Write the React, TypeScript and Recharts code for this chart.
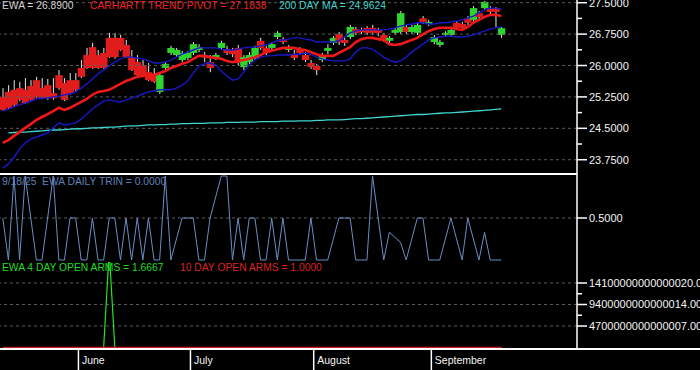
import React from 'react';
import { ComposedChart, Bar, Line, XAxis, YAxis, ReferenceLine } from 'recharts';

const FONT = '"Liberation Sans", Arial, sans-serif';

// trading days (categories)
const dates = [
  '5/12','5/13','5/14','5/15','5/16','5/19','5/20','5/21','5/22','5/23','5/27','5/28','5/29','5/30',
  '6/2','6/3','6/4','6/5','6/6','6/9','6/10','6/11','6/12','6/13','6/16','6/17','6/18','6/20','6/23','6/24','6/25','6/26','6/27','6/30',
  '7/1','7/2','7/3','7/7','7/8','7/9','7/10','7/11','7/14','7/15','7/16','7/17','7/18','7/21','7/22','7/23','7/24','7/25','7/28','7/29','7/30','7/31',
  '8/1','8/4','8/5','8/6','8/7','8/8','8/11','8/12','8/13','8/14','8/15','8/18','8/19','8/20','8/21','8/22','8/25','8/26','8/27','8/28','8/29',
  '9/2','9/3','9/4','9/5','9/8','9/9','9/10','9/11','9/12','9/15','9/16','9/17','9/18',
];
const PAD_SLOTS = 13;

const open = [
  25.25, 25.37, 25.42, 25.46, 25.42, 25.51, 25.65, 25.46, 25.53, 25.34,
  25.77, 25.58, 25.65, 25.65, 25.94, 26.25, 26.44, 26.25, 26.30, 26.66,
  26.66, 26.66, 26.49, 26.20, 26.08, 26.01, 25.84, 25.80, 25.37, 25.94,
  26.30, 26.25, 26.13, 26.18, 26.30, 26.37, 26.23, 26.08, 26.18, 26.42,
  26.39, 26.37, 26.42, 25.96, 26.08, 26.18, 26.59, 26.42, 26.42, 26.68,
  26.63, 26.37, 26.27, 26.37, 26.25, 26.06, 25.99, 26.13, 26.35, 26.54,
  26.75, 26.61, 26.68, 26.87, 26.85, 26.90, 26.90, 26.85, 26.73, 26.59,
  26.78, 26.80, 26.92, 26.80, 26.78, 27.13, 26.99, 26.56, 26.49, 26.73,
  26.73, 27.02, 26.99, 27.13, 27.09, 27.25, 27.37, 27.37, 27.37, 26.73,
];
const high = [
  25.46, 25.53, 25.65, 25.61, 25.70, 25.65, 25.73, 25.70, 25.68, 25.70,
  25.89, 25.70, 25.82, 25.82, 26.13, 26.42, 26.54, 26.37, 26.42, 26.78,
  26.78, 26.73, 26.61, 26.37, 26.25, 26.13, 26.06, 25.94, 25.82, 26.08,
  26.47, 26.42, 26.35, 26.35, 26.56, 26.51, 26.32, 26.25, 26.30, 26.59,
  26.47, 26.42, 26.49, 26.25, 26.32, 26.47, 26.66, 26.47, 26.56, 26.82,
  26.68, 26.49, 26.37, 26.44, 26.32, 26.13, 26.04, 26.30, 26.51, 26.70,
  26.80, 26.68, 26.97, 26.92, 26.90, 26.94, 26.97, 26.90, 26.78, 26.70,
  26.90, 27.30, 26.97, 26.97, 27.02, 27.18, 27.09, 26.73, 26.61, 26.82,
  26.90, 27.06, 27.04, 27.18, 27.42, 27.30, 27.54, 27.42, 27.40, 26.92,
];
const low = [
  24.92, 24.96, 25.03, 25.15, 25.08, 25.15, 25.22, 25.20, 25.18, 25.18,
  25.42, 25.15, 25.30, 25.39, 25.70, 25.92, 25.92, 25.92, 25.92, 26.18,
  26.16, 26.35, 26.18, 25.87, 25.75, 25.73, 25.63, 25.58, 25.32, 25.89,
  26.25, 26.20, 26.08, 26.13, 26.25, 26.32, 26.08, 25.84, 26.13, 26.37,
  26.25, 26.20, 25.99, 25.89, 26.01, 26.13, 26.37, 26.25, 26.37, 26.63,
  26.51, 26.32, 26.13, 26.25, 26.08, 25.92, 25.77, 26.08, 26.27, 26.49,
  26.49, 26.47, 26.63, 26.73, 26.75, 26.73, 26.73, 26.70, 26.56, 26.54,
  26.73, 26.75, 26.75, 26.75, 26.73, 26.99, 26.94, 26.51, 26.44, 26.68,
  26.68, 26.85, 26.85, 26.97, 27.04, 27.11, 27.33, 27.23, 26.92, 26.66,
];
const close = [
  24.94, 24.99, 25.06, 25.18, 25.10, 25.18, 25.25, 25.22, 25.22, 25.22,
  25.46, 25.18, 25.34, 25.42, 25.73, 25.94, 25.94, 25.94, 25.94, 26.20,
  26.20, 26.37, 26.20, 25.89, 25.77, 25.77, 25.65, 25.61, 25.77, 26.04,
  26.42, 26.37, 26.30, 26.30, 26.51, 26.44, 26.20, 25.94, 26.25, 26.54,
  26.30, 26.27, 26.06, 26.20, 26.25, 26.42, 26.42, 26.30, 26.51, 26.78,
  26.56, 26.44, 26.18, 26.30, 26.13, 25.96, 25.89, 26.25, 26.42, 26.66,
  26.56, 26.54, 26.92, 26.78, 26.80, 26.78, 26.78, 26.78, 26.61, 26.66,
  26.85, 27.25, 26.80, 26.92, 26.97, 27.04, 27.04, 26.68, 26.56, 26.78,
  26.85, 26.90, 26.90, 27.02, 27.37, 27.16, 27.52, 27.28, 27.28, 26.89,
];

const trendPivot = [
  24.15, 24.22, 24.32, 24.41, 24.51, 24.60, 24.70, 24.77, 24.84, 24.91,
  24.99, 24.94, 24.99, 25.06, 25.13, 25.20, 25.30, 25.37, 25.39, 25.42,
  25.49, 25.56, 25.63, 25.68, 25.73, 25.75, 25.77, 25.77, 25.82, 25.87,
  25.94, 25.99, 26.04, 26.08, 26.16, 26.23, 26.23, 26.20, 26.18, 26.16,
  26.11, 26.08, 26.11, 26.13, 26.16, 26.20, 26.25, 26.32, 26.35, 26.39,
  26.42, 26.42, 26.42, 26.39, 26.37, 26.32, 26.27, 26.23, 26.23, 26.23,
  26.30, 26.37, 26.44, 26.56, 26.63, 26.66, 26.66, 26.63, 26.61, 26.51,
  26.49, 26.51, 26.56, 26.61, 26.66, 26.75, 26.82, 26.87, 26.90, 26.90,
  26.90, 26.87, 26.85, 26.92, 27.02, 27.09, 27.16, 27.21, 27.21, 27.1838,
];
const upperBand = [
  24.91, 24.96, 25.01, 25.06, 25.10, 25.15, 25.20, 25.22, 25.22, 25.25,
  25.27, 25.30, 25.32, 25.37, 25.46, 25.56, 25.68, 25.80, 25.89, 25.99,
  26.08, 26.16, 26.20, 26.20, 26.18, 26.16, 26.11, 26.06, 26.06, 26.08,
  26.13, 26.20, 26.27, 26.32, 26.37, 26.42, 26.42, 26.42, 26.42, 26.39,
  26.37, 26.37, 26.39, 26.42, 26.44, 26.44, 26.47, 26.49, 26.54, 26.59,
  26.61, 26.63, 26.66, 26.66, 26.63, 26.61, 26.56, 26.56, 26.56, 26.56,
  26.59, 26.68, 26.78, 26.82, 26.85, 26.85, 26.85, 26.85, 26.85, 26.87,
  26.90, 26.94, 26.97, 26.99, 27.02, 27.02, 26.99, 26.99, 27.02, 27.02,
  27.04, 27.06, 27.09, 27.13, 27.18, 27.25, 27.33, 27.37, 27.37, 27.35,
];
const lowerBand = [
  23.55, 23.65, 23.81, 24.01, 24.15, 24.24, 24.29, 24.34, 24.39, 24.51,
  24.63, 24.58, 24.60, 24.63, 24.72, 24.84, 24.96, 25.06, 25.15, 25.18,
  25.15, 25.13, 25.18, 25.22, 25.27, 25.32, 25.37, 25.39, 25.42, 25.42,
  25.42, 25.46, 25.53, 25.63, 25.82, 25.99, 26.04, 26.06, 26.01, 25.87,
  25.75, 25.65, 25.68, 25.84, 26.01, 26.13, 26.20, 26.23, 26.23, 26.25,
  26.25, 26.25, 26.27, 26.27, 26.30, 26.27, 26.20, 26.16, 26.13, 26.11,
  26.11, 26.11, 26.16, 26.32, 26.42, 26.42, 26.39, 26.30, 26.20, 26.13,
  26.08, 26.11, 26.20, 26.32, 26.42, 26.51, 26.61, 26.66, 26.68, 26.70,
  26.70, 26.68, 26.68, 26.70, 26.73, 26.78, 26.82, 26.87, 26.90, 26.92,
];
const ma200 = [
  null, 24.39, 24.40, 24.41, 24.41, 24.42, 24.43, 24.44, 24.45, 24.46,
  24.46, 24.47, 24.48, 24.49, 24.49, 24.50, 24.51, 24.51, 24.52, 24.53,
  24.53, 24.54, 24.55, 24.56, 24.56, 24.57, 24.58, 24.58, 24.59, 24.59,
  24.60, 24.60, 24.61, 24.61, 24.62, 24.62, 24.62, 24.63, 24.63, 24.63,
  24.64, 24.64, 24.64, 24.65, 24.65, 24.65, 24.66, 24.66, 24.66, 24.66,
  24.67, 24.67, 24.67, 24.68, 24.68, 24.68, 24.69, 24.69, 24.70, 24.70,
  24.70, 24.71, 24.72, 24.73, 24.73, 24.74, 24.75, 24.76, 24.77, 24.78,
  24.79, 24.80, 24.81, 24.82, 24.83, 24.83, 24.84, 24.85, 24.86, 24.87,
  24.87, 24.88, 24.89, 24.90, 24.91, 24.92, 24.93, 24.94, 24.95, 24.9624,
];

const trin = [
  0.5, 0, 1, 0, 1, 0.5, 0, 0, 0.5, 1,
  0, 0, 0.5, 0.5, 0, 0, 0.5, 0, 0, 0.5,
  0.5, 0, 0.5, 0, 0.5, 0, 0.5, 0, 0, 1,
  0, 0.25, 0.5, 0.5, 0.5, 0, 0, 0.5, 0.75, 1,
  1, 0, 0.5, 0, 0.5, 0.5, 0, 0, 0.5, 0,
  0.5, 0, 0, 0, 0, 0.5, 0, 0, 0, 0.25,
  0.5, 0.5, 0.5, 0, 0, 0, 1, 0.5, 0, 0.33,
  0.27, 0.21, 0, 0.25, 0.5, 0.5, 0, 0, 0, 0.25,
  0.5, 0.25, 0, 0.5, 0.25, 0, 0.33, 0, 0, 0,
];

const openArms4 = [
  1.25, 1.5, 1.0, 0.75, 1.25, 1.5, 1.0, 1.25, 1.0, 0.75,
  1.0, 1.5, 1.25, 1.0, 1.25, 1.5, 1.0, 0.75, 1.0, 2.1e16,
  1.25, 1.0, 1.25, 1.5, 1.0, 0.75, 1.25, 1.5, 1.0, 1.25,
  1.0, 0.75, 1.25, 1.5, 1.25, 1.0, 0.75, 1.0, 1.25, 1.5,
  1.25, 1.0, 1.0, 1.25, 1.5, 1.25, 1.0, 0.75, 1.0, 1.25,
  1.5, 1.25, 1.0, 0.75, 1.0, 1.25, 1.5, 1.25, 1.0, 1.0,
  1.25, 1.5, 1.25, 1.0, 0.75, 1.0, 1.25, 1.0, 1.25, 1.5,
  1.25, 1.0, 0.75, 1.0, 1.25, 1.5, 1.25, 1.0, 1.0, 1.25,
  1.5, 1.25, 1.0, 1.25, 1.5, 1.25, 1.0, 1.25, 1.5, 1.6667,
];
const openArms10 = [
  1.1, 1.1, 1.05, 1.0, 1.05, 1.1, 1.1, 1.05, 1.0, 1.0,
  1.05, 1.1, 1.1, 1.05, 1.05, 1.1, 1.05, 1.0, 1.0, 1.05,
  1.1, 1.1, 1.05, 1.05, 1.1, 1.05, 1.0, 1.05, 1.1, 1.1,
  1.05, 1.0, 1.0, 1.05, 1.1, 1.1, 1.05, 1.0, 1.05, 1.1,
  1.1, 1.05, 1.0, 1.05, 1.1, 1.1, 1.05, 1.0, 1.0, 1.05,
  1.1, 1.1, 1.05, 1.0, 1.05, 1.1, 1.1, 1.05, 1.0, 1.0,
  1.05, 1.1, 1.1, 1.05, 1.0, 1.05, 1.1, 1.05, 1.0, 1.05,
  1.1, 1.1, 1.05, 1.0, 1.05, 1.1, 1.1, 1.05, 1.0, 1.05,
  1.1, 1.05, 1.0, 1.05, 1.1, 1.05, 1.0, 1.05, 1.05, 1.0,
];

// axes
const priceTicks = [23.75, 24.125, 24.5, 24.875, 25.25, 25.625, 26, 26.375, 26.75, 27.125, 27.5];
const priceMajor = [23.75, 24.5, 25.25, 26, 26.75, 27.5];
const priceLabels = ['23.7500', '24.5000', '25.2500', '26.0000', '26.7500', '27.5000'];
const trinTicks = [0.5];
const trinLabels = ['0.5000'];
const armsTicks = [4.7e15, 7.05e15, 9.4e15, 1.175e16, 1.41e16];
const armsMajor = [4.7e15, 9.4e15, 1.41e16];
const armsLabels = ['4700000000000007.00', '9400000000000014.00', '14100000000000020.00'];
const monthStarts = ['6/2', '7/1', '8/1', '9/2'];
const monthLabels = ['June', 'July', 'August', 'September'];

const data: any[] = dates.map((d, i) => ({
  d,
  open: open[i], high: high[i], low: low[i], close: close[i],
  pivot: trendPivot[i], upper: upperBand[i], lower: lowerBand[i], ma: ma200[i],
  trin: trin[i], arms4: openArms4[i], arms10: openArms10[i],
}));
for (let k = 0; k < PAD_SLOTS; k++) data.push({ d: `pad${k}` });

const last = (a: any[]) => a[a.length - 1] as number;

const Candle = (props: any) => {
  const { x, y, width, height, payload } = props;
  if (!payload || payload.high == null || !isFinite(y) || !isFinite(height)) return null;
  const top = Math.min(y, y + height);
  const h = Math.abs(height);
  const k = h / (payload.high - payload.low);
  const cx = x + width / 2;
  const bTop = top + (payload.high - Math.max(payload.open, payload.close)) * k;
  const bBot = top + (payload.high - Math.min(payload.open, payload.close)) * k;
  const up = payload.close >= payload.open;
  return (
    <g>
      <line x1={cx} x2={cx} y1={top} y2={top + h} stroke="#e6e6e6" strokeWidth={1} />
      <rect x={cx - 3.7} y={bTop} width={7.4} height={Math.max(1.5, bBot - bTop)} fill={up ? '#2fd42f' : '#e01c1c'} />
    </g>
  );
};

const makeYTick = (majors: number[], labels: string[]) => (props: any) => {
  const { x, y, payload } = props;
  const idx = majors.indexOf(payload.value);
  if (idx < 0) {
    return <line x1={x} x2={x + 5} y1={y} y2={y} stroke="#ffffff" strokeWidth={1.5} />;
  }
  return (
    <g>
      <line x1={x} x2={x + 10} y1={y} y2={y} stroke="#ffffff" strokeWidth={1.5} />
      <text x={x + 12} y={y} dominantBaseline="central" fill="#f4f4f4" fontSize={11} fontFamily={FONT}>
        {labels[idx]}
      </text>
    </g>
  );
};

const XTick = (props: any) => {
  const { x, y, payload } = props;
  const i = monthStarts.indexOf(payload.value);
  if (i < 0) return null;
  const sx = x - 2.8;
  return (
    <g>
      <line x1={sx} x2={sx} y1={y} y2={y + 21} stroke="#ffffff" strokeWidth={1.5} />
      <text x={sx + 3.5} y={y + 11} dominantBaseline="central" fill="#f4f4f4" fontSize={10.5} fontFamily={FONT}>
        {monthLabels[i]}
      </text>
    </g>
  );
};

const axisLineStyle = { stroke: '#ffffff', strokeWidth: 1.5 };
const gridStroke = '#5c5c5c';

const legend: React.CSSProperties = {
  position: 'absolute', fontFamily: FONT, fontSize: 10.3, lineHeight: '12px', whiteSpace: 'pre',
};

const lineCommon = { dot: false, activeDot: false, isAnimationActive: false } as const;

export default function App() {
  return (
    <div style={{ position: 'absolute', left: 0, top: 0, width: 700, height: 370, background: '#000', overflow: 'hidden', pointerEvents: 'none' }}>
      <div style={{ position: 'absolute', left: 0, top: 0 }}>
        <ComposedChart width={700} height={174} data={data} margin={{ top: 0, right: 0, bottom: 0, left: 0 }} barCategoryGap={0}>
          <XAxis dataKey="d" hide scale="band" />
          <YAxis orientation="right" width={123} domain={[23.409, 27.5645]} allowDataOverflow ticks={priceTicks} interval={0}
            tickSize={0} tickMargin={0} tickLine={false} axisLine={axisLineStyle} tick={makeYTick(priceMajor, priceLabels)} />
          {priceMajor.map((v) => (
            <ReferenceLine key={v} y={v} stroke={gridStroke} strokeDasharray="3 3" />
          ))}
          <Bar dataKey={(r: any) => (r.high == null ? null : [r.low, r.high])} shape={Candle} isAnimationActive={false} activeBar={false} />
          <Line dataKey="ma" stroke="#3fd6cf" strokeWidth={1.3} {...lineCommon} />
          <Line dataKey="lower" stroke="#1818c8" strokeWidth={1.4} {...lineCommon} />
          <Line dataKey="upper" stroke="#1818c8" strokeWidth={1.4} {...lineCommon} />
          <Line dataKey="pivot" stroke="#f01818" strokeWidth={2.6} {...lineCommon} />
        </ComposedChart>
      </div>
      <div style={{ position: 'absolute', left: 0, top: 173, width: 577, height: 2, background: '#fff' }} />
      <div style={{ position: 'absolute', left: 0, top: 174 }}>
        <ComposedChart width={700} height={88} data={data} margin={{ top: 0, right: 0, bottom: 0, left: 0 }}>
          <XAxis dataKey="d" hide scale="band" />
          <YAxis orientation="right" width={123} domain={[-0.024, 1.024]} allowDataOverflow ticks={trinTicks} interval={0}
            tickSize={0} tickMargin={0} tickLine={false} axisLine={axisLineStyle} tick={makeYTick(trinTicks, trinLabels)} />
          <ReferenceLine y={0.5} stroke={gridStroke} strokeDasharray="3 3" />
          <Line dataKey="trin" stroke="#6a8ec4" strokeWidth={1} {...lineCommon} />
        </ComposedChart>
      </div>
      <div style={{ position: 'absolute', left: 0, top: 262 }}>
        <ComposedChart width={700} height={108} data={data} margin={{ top: 0, right: 0, bottom: 0, left: 0 }}>
          <XAxis dataKey="d" scale="band" height={21} ticks={monthStarts} interval={0} tickLine={false} axisLine={false}
            tickSize={0} tickMargin={0} tick={XTick} />
          <YAxis orientation="right" width={123} domain={[-3.28e14, 1.869e16]} allowDataOverflow ticks={armsTicks} interval={0}
            tickSize={0} tickMargin={0} tickLine={false} axisLine={axisLineStyle} tick={makeYTick(armsMajor, armsLabels)} />
          {armsMajor.map((v) => (
            <ReferenceLine key={v} y={v} stroke={gridStroke} strokeDasharray="3 3" />
          ))}
          <Line dataKey="arms4" stroke="#22e622" strokeWidth={1.2} {...lineCommon} />
          <Line dataKey="arms10" stroke="#c81e1e" strokeWidth={1.5} {...lineCommon} />
        </ComposedChart>
      </div>
      <div style={{ position: 'absolute', left: 0, top: 348, width: 700, height: 2, background: '#fff' }} />

      <div style={{ ...legend, left: 2, top: 0, color: '#d2d2d2' }}>{`EWA = ${last(close).toFixed(4)}`}</div>
      <div style={{ ...legend, left: 90, top: 0, color: '#f02020' }}>{`CARHARTT TREND PIVOT = ${last(trendPivot).toFixed(4)}`}</div>
      <div style={{ ...legend, left: 279, top: 0, color: '#3fd6cf' }}>{`200 DAY MA = ${last(ma200).toFixed(4)}`}</div>
      <div style={{ ...legend, left: 2, top: 176, color: '#5f82b8' }}>{`9/18/25  EWA DAILY TRIN = ${last(trin).toFixed(4)}`}</div>
      <div style={{ ...legend, left: 2, top: 261.5, color: '#22dd22' }}>{`EWA 4 DAY OPEN ARMS = ${last(openArms4).toFixed(4)}`}</div>
      <div style={{ ...legend, left: 180, top: 261.5, color: '#dd2222' }}>{`10 DAY OPEN ARMS = ${last(openArms10).toFixed(4)}`}</div>
    </div>
  );
}
